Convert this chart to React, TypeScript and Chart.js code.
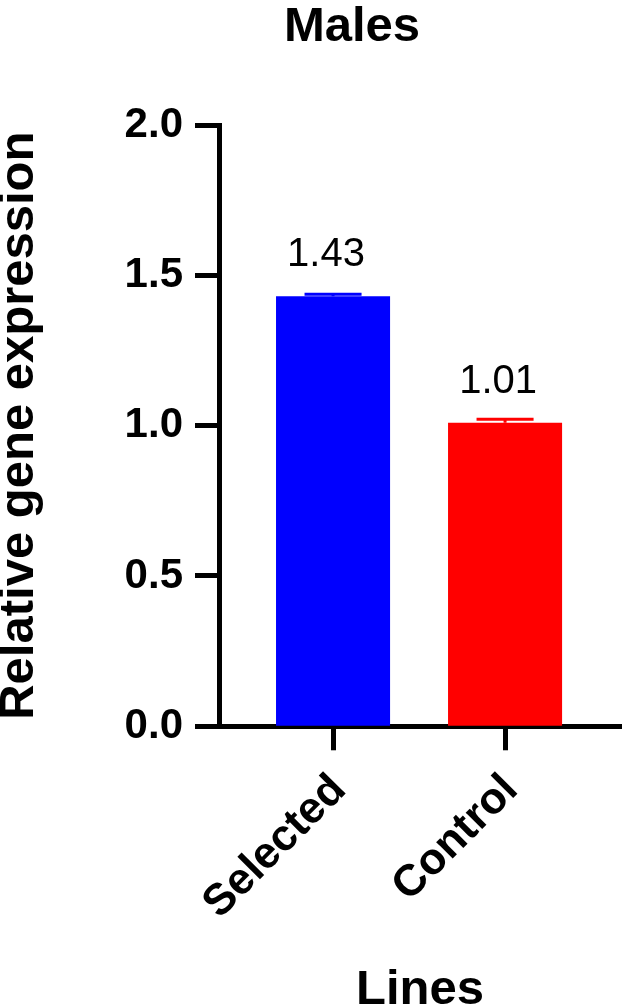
import { useEffect, useRef } from 'react';
import { Chart, registerables } from 'chart.js';

Chart.register(...registerables);

const categories = ['Selected', 'Control'];
const means = [1.43, 1.01];
const errors = [0.007, 0.011];
const barColors = ['#0000FF', '#FF0000'];
const yTicks = [0, 0.5, 1.0, 1.5, 2.0];

const FONT = "'Liberation Sans', Arial, Helvetica, sans-serif";

const errorBarPlugin = {
  id: 'errorBarsAndLabels',
  afterDatasetsDraw(chart: any) {
    const { ctx } = chart;
    const meta = chart.getDatasetMeta(0);
    const yScale = chart.scales.y;
    meta.data.forEach((bar: any, i: number) => {
      const x = bar.x;
      const yTop = yScale.getPixelForValue(means[i] + errors[i]);
      const yMean = yScale.getPixelForValue(means[i]);
      const half = bar.width / 4;
      ctx.save();
      ctx.strokeStyle = barColors[i];
      ctx.lineWidth = 3;
      ctx.beginPath();
      ctx.moveTo(x, yMean);
      ctx.lineTo(x, yTop);
      ctx.moveTo(x - half, yTop);
      ctx.lineTo(x + half, yTop);
      ctx.stroke();
      ctx.fillStyle = '#000';
      ctx.font = `40px ${FONT}`;
      ctx.textAlign = 'center';
      ctx.textBaseline = 'alphabetic';
      ctx.fillText(means[i].toFixed(2), x - 7, yMean - 30);
      ctx.restore();
    });
  },
};

export default function App() {
  const ref = useRef<HTMLCanvasElement | null>(null);

  useEffect(() => {
    if (!ref.current) return;
    const chart = new Chart(ref.current, {
      type: 'bar',
      data: {
        datasets: [
          {
            data: categories.map((_, i) => ({ x: i, y: means[i] })) as any,
            backgroundColor: barColors,
            borderWidth: 0,
            barPercentage: 0.663,
            categoryPercentage: 1,
          },
        ],
      },
      options: {
        responsive: false,
        animation: false,
        layout: { padding: 0 },
        plugins: {
          legend: { display: false },
          tooltip: { enabled: false },
          title: {
            display: true,
            text: 'Males',
            color: '#000',
            font: { family: FONT, size: 49, weight: 'bold', lineHeight: 1.0 },
            padding: { top: 3, bottom: 73 },
          },
        },
        scales: {
          x: {
            type: 'linear',
            min: -0.663,
            max: 1.674,
            offset: false,
            afterBuildTicks: (scale: any) => {
              scale.ticks = categories.map((_, i) => ({ value: i }));
            },
            afterFit: (scale: any) => {
              scale.paddingLeft = 0;
              scale.paddingRight = 0;
            },
            ticks: {
              callback: (v: any) => categories[Number(v)] ?? '',
              minRotation: 45,
              maxRotation: 45,
              autoSkip: false,
              padding: 14,
              labelOffset: 6,
              color: '#000',
              font: { family: FONT, size: 44, weight: 'bold' },
            },
            grid: {
              offset: false,
              drawOnChartArea: false,
              drawTicks: true,
              tickLength: 24,
              tickWidth: 5,
              tickColor: '#000',
            },
            border: { display: true, width: 5, color: '#000' },
            title: {
              display: true,
              text: 'Lines',
              color: '#000',
              font: { family: FONT, size: 49, weight: 'bold', lineHeight: 0.6 },
              padding: { top: 32, bottom: 0 },
            },
          },
          y: {
            min: 0,
            max: 2,
            afterBuildTicks: (scale: any) => {
              scale.ticks = yTicks.map((v) => ({ value: v }));
            },
            afterFit: (scale: any) => {
              scale.width = 219;
            },
            ticks: {
              callback: (v: any) => Number(v).toFixed(1),
              padding: 12,
              color: '#000',
              font: { family: FONT, size: 42, weight: 'bold' },
            },
            grid: {
              drawOnChartArea: false,
              drawTicks: true,
              tickLength: 24,
              tickWidth: 5,
              tickColor: '#000',
            },
            border: { display: true, width: 5, color: '#000' },
            title: {
              display: true,
              text: 'Relative gene expression',
              color: '#000',
              font: { family: FONT, size: 49, weight: 'bold', lineHeight: 0.8 },
              padding: { top: 0, bottom: 0 },
            },
          },
          yRight: {
            position: 'right',
            display: true,
            afterFit: (scale: any) => {
              scale.width = 83;
            },
            ticks: { display: false },
            grid: { display: false },
            border: { display: false },
          },
        },
      } as any,
      plugins: [errorBarPlugin],
    });
    return () => chart.destroy();
  }, []);

  return (
    <div
      style={{
        position: 'fixed',
        left: 0,
        top: 0,
        width: 622,
        height: 1005,
        overflow: 'hidden',
        background: '#fff',
      }}
    >
      <canvas ref={ref} width={704} height={1005} style={{ display: 'block' }} />
    </div>
  );
}
